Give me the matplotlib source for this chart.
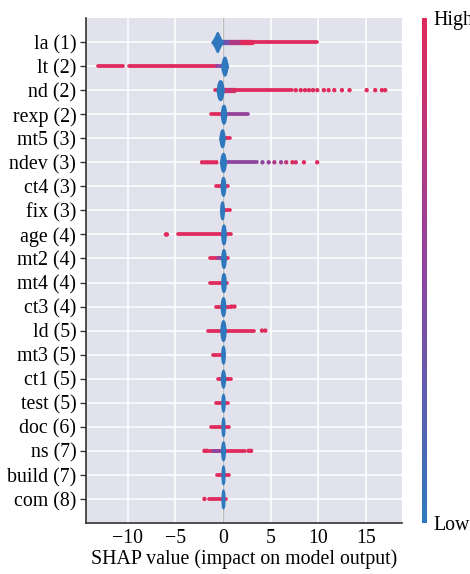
#!/usr/bin/env python3
"""
SHAP summary (beeswarm-style) chart, redrawn with plain matplotlib.

Writes:
    out.png
"""

import numpy as np
import matplotlib
matplotlib.use("Agg")
import matplotlib.pyplot as plt
from matplotlib.colors import LinearSegmentedColormap, Normalize
from matplotlib.colorbar import ColorbarBase


FEATURES = [
    "la (1)", "lt (2)", "nd (2)", "rexp (2)", "mt5 (3)", "ndev (3)", "ct4 (3)",
    "fix (3)", "age (4)", "mt2 (4)", "mt4 (4)", "ct3 (4)", "ld (5)", "mt3 (5)",
    "ct1 (5)", "test (5)", "doc (6)", "ns (7)", "build (7)", "com (8)",
]

# low-value cluster (blue pile) per feature: centre, core half-width,
# widest half-width (SHAP units), half-height (fraction of a row)
BLOB_CENTER = [-0.6, 0.15, -0.3, 0.05, -0.1, 0.0, 0.0, -0.1, 0.05, 0.05,
               0.05, 0.0, 0.0, 0.0, 0.0, 0.0, 0.0, 0.0, 0.0, 0.0]
BLOB_CORE = [0.22, 0.27, 0.32, 0.27, 0.25, 0.27, 0.25, 0.22, 0.25, 0.25,
             0.25, 0.25, 0.27, 0.22, 0.22, 0.2, 0.2, 0.22, 0.2, 0.2]
BLOB_SPREAD = [0.72, 0.45, 0.45, 0.37, 0.37, 0.4, 0.33, 0.28, 0.32, 0.32,
               0.32, 0.32, 0.36, 0.26, 0.32, 0.26, 0.22, 0.28, 0.22, 0.22]
BLOB_HEIGHT = [0.44, 0.42, 0.44, 0.42, 0.40, 0.42, 0.42, 0.40, 0.44, 0.42,
               0.42, 0.42, 0.46, 0.40, 0.40, 0.40, 0.42, 0.42, 0.42, 0.42]

# dense runs of points: (feature index, start, end, feature value 0..1, layers)
RUNS = [
    (0, 0.0, 0.8, 0.35, 2), (0, 0.8, 2.0, 0.7, 2), (0, 2.0, 3.0, 1.0, 2),
    (0, 3.0, 9.9, 1.0, 1),
    (1, -13.1, -10.5, 1.0, 1), (1, -9.9, -0.6, 1.0, 1), (1, -0.6, 0.0, 0.5, 1),
    (2, -0.8, -0.3, 1.0, 1), (2, 0.0, 1.2, 0.85, 2), (2, 1.2, 7.3, 1.0, 1),
    (3, -1.25, -0.2, 1.0, 1), (3, 0.3, 2.6, 0.55, 1),
    (4, 0.1, 0.75, 1.0, 1),
    (5, 0.2, 3.6, 0.5, 1),
    (6, -0.7, 0.5, 1.0, 1),
    (7, 0.1, 0.75, 1.0, 1),
    (8, -4.7, -0.1, 1.0, 1), (8, 0.1, 0.8, 1.0, 1),
    (9, -1.4, 0.5, 1.0, 1), (9, -0.5, 0.0, 0.5, 1),
    (10, -1.35, 0.4, 1.0, 1),
    (11, -0.7, 0.7, 1.0, 1),
    (12, -1.6, 3.3, 1.0, 1),
    (13, -1.0, 0.1, 1.0, 1),
    (14, -0.5, 0.8, 1.0, 1),
    (15, -0.7, 0.5, 1.0, 1),
    (16, -1.3, 0.6, 1.0, 1),
    (17, -1.5, 2.3, 1.0, 1), (17, -1.0, -0.1, 0.5, 1),
    (18, -0.6, 0.6, 1.0, 1),
    (19, -1.5, 0.3, 1.0, 1),
]

# isolated points: feature index, SHAP value, feature value 0..1
DOT_FEATURE = [2] * 15 + [5] * 15 + [8, 8, 11, 11, 12, 12, 17, 17, 17, 17, 19]
DOT_SHAP = [
    7.65, 8.17, 8.62, 9.04, 9.46, 9.91, 10.6, 11.1, 11.7, 12.5, 13.3, 15.1,
    16.0, 16.7, 17.05,
    -2.2, -1.9, -1.6, -1.3, -1.0, -0.7,
    4.15, 4.8, 5.4, 6.1, 6.65, 7.3, 7.65, 8.5, 9.9,
    -5.9, -6.0, 0.9, 1.2, 4.1, 4.45, -1.95, -1.7, 2.7, 2.95, -1.95,
]
DOT_VALUE = [1.0] * 15 + [1.0] * 6 + [0.5, 0.55, 0.7, 0.6, 0.8, 1.0, 0.9, 1.0, 1.0] \
    + [1.0] * 11

X_TICKS = [-10, -5, 0, 5, 10, 15]

BLUE = "#2F78BD"
RED = "#E02A5B"
SERIF = ["Liberation Serif", "DejaVu Serif"]


def make_cmap():
    return LinearSegmentedColormap.from_list("shap_rb", [BLUE, "#8E45A0", RED])


def draw_blob(ax, row, cx, core, spread, height, color):
    t = np.linspace(-1.0, 1.0, 81)
    prof = core * np.sqrt(1.0 - t ** 4) + (spread - core) * (1.0 - np.abs(t)) ** 2
    yy = row + t * height
    ax.fill_betweenx(yy, cx - prof, cx + prof, color=color, lw=0, zorder=3)


def main() -> None:
    plt.rcParams["font.family"] = SERIF
    cmap = make_cmap()
    n = len(FEATURES)

    fig = plt.figure(figsize=(4.7, 5.74), dpi=100)
    ax = fig.add_axes([0.183, 0.0889, 0.672, 0.8797])
    ax.set_facecolor("#E1E2EC")

    rows = {i: n - 1 - i for i in range(n)}

    for i, x0, x1, val, layers in RUNS:
        ax.plot([x0, x1], [rows[i], rows[i]], color=cmap(val),
                lw=2.7 if layers == 1 else 3.8, solid_capstyle="round", zorder=2)

    for i in range(n):
        draw_blob(ax, rows[i], BLOB_CENTER[i], BLOB_CORE[i], BLOB_SPREAD[i],
                  BLOB_HEIGHT[i], BLUE)

    ax.scatter(DOT_SHAP, [rows[i] for i in DOT_FEATURE], c=DOT_VALUE,
               cmap=cmap, vmin=0, vmax=1, s=10, linewidths=0, zorder=2)

    ax.axvline(0, color="#BBBBBB", lw=1, zorder=1)

    ax.set_xlim(-14.4, 18.8)
    ax.set_ylim(-1, n)
    ax.set_yticks(range(n))
    ax.set_yticklabels(FEATURES[::-1], fontsize=14.3)
    ax.set_xticks(X_TICKS)
    ax.set_xticklabels([f"\u2212{abs(v)}" if v < 0 else str(v) for v in X_TICKS],
                       fontsize=14.3)
    ax.set_xlabel("SHAP value (impact on model output)", fontsize=14.3, labelpad=1)
    ax.grid(True, color="white", lw=1.1, zorder=0)
    ax.set_axisbelow(True)
    ax.tick_params(axis="y", length=4, width=1, color="#333333", pad=3)
    ax.tick_params(axis="x", length=0, pad=4)
    for side in ["top", "right"]:
        ax.spines[side].set_visible(False)
    for side in ["left", "bottom"]:
        ax.spines[side].set_color("#333333")
        ax.spines[side].set_linewidth(1.2)

    cax = fig.add_axes([0.898, 0.0889, 0.0115, 0.8797])
    cb = ColorbarBase(cax, cmap=cmap, norm=Normalize(0, 1))
    cb.outline.set_visible(False)
    cb.set_ticks([0, 1])
    cb.set_ticklabels(["Low", "High"])
    cax.tick_params(length=0, labelsize=14.3, pad=4)

    fig.savefig("out.png", dpi=100)
    plt.close(fig)


if __name__ == "__main__":
    main()
